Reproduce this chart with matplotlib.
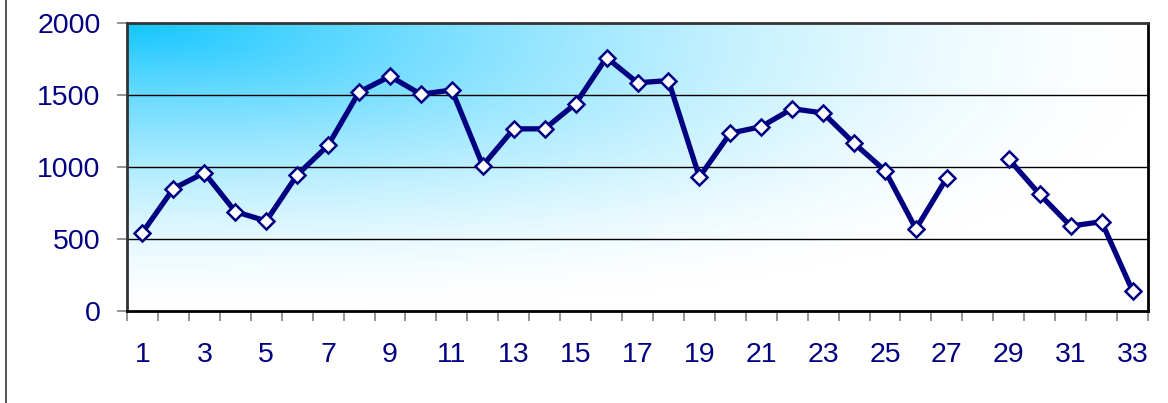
import matplotlib
matplotlib.use("Agg")
import matplotlib.pyplot as plt
import numpy as np
from matplotlib.lines import Line2D
from matplotlib.ticker import FixedLocator

# categories 1..33, value 28 is missing
days = list(range(1, 34))
values = [545, 850, 960, 690, 625, 945, 1150, 1520, 1630, 1505,
          1535, 1010, 1265, 1265, 1440, 1760, 1585, 1600, 930, 1235,
          1280, 1405, 1375, 1165, 975, 570, 925, np.nan, 1055, 810,
          590, 620, 140]
y_ticks = [0, 500, 1000, 1500, 2000]
x_labels = [str(d) for d in days if d % 2 == 1]

navy = "#000080"
plt.rcParams['font.family'] = ['Liberation Sans', 'DejaVu Sans']

fig = plt.figure(figsize=(11.68, 4.03), dpi=100)
ax = fig.add_axes([127 / 1168, (403 - 311) / 403, 1021 / 1168, 288 / 403])

# corner gradient background (cyan top-left -> white)
nx, ny = 400, 120
u = np.linspace(0, 1, nx)[None, :]
v = np.linspace(0, 1, ny)[:, None]
n = 2.6
r = (u ** n + v ** n) ** (1 / n)
t = np.clip(1 - r, 0, 1) ** 1.55
c0 = np.array([20, 198, 255]) / 255.0
img = 1 - t[..., None] * (1 - c0[None, None, :])
ax.imshow(img, extent=[0.5, 33.5, 0, 2000], origin='upper', aspect='auto',
          zorder=0, interpolation='bilinear')

ax.set_xlim(0.5, 33.5)
ax.set_ylim(0, 2000)

for g in [500, 1000, 1500]:
    ax.axhline(g, color='black', lw=1.0, zorder=1)

ax.plot(days, values, color=navy, lw=3.8, marker='D', markersize=8.5,
        markerfacecolor='white', markeredgecolor=navy, markeredgewidth=1.8,
        zorder=3, clip_on=False)

ax.set_yticks(y_ticks)
ax.set_yticklabels([str(y) for y in y_ticks])
ax.set_xticks([d for d in days if d % 2 == 1])
ax.set_xticklabels(x_labels)
ax.xaxis.set_minor_locator(FixedLocator(np.arange(0.5, 34, 1)))

ax.tick_params(axis='x', which='major', length=0, pad=22, labelsize=20.5,
               labelcolor=navy)
ax.tick_params(axis='x', which='minor', length=7, width=1.2, color='#808080',
               direction='out')
ax.tick_params(axis='y', which='major', length=7, width=1.2, color='#808080',
               direction='out', pad=12, labelsize=20.5, labelcolor=navy)

for side in ['top', 'right', 'bottom', 'left']:
    ax.spines[side].set_color('black')
    ax.spines[side].set_linewidth(2.0)
    ax.spines[side].set_zorder(4)
ax.spines['left'].set_color('#333333')
ax.spines['top'].set_color('#333333')

# left edge of outer chart area
fig.add_artist(Line2D([6 / 1168, 6 / 1168], [0, 1], color='#333333', lw=1.2))

fig.savefig("out.png", dpi=100)
